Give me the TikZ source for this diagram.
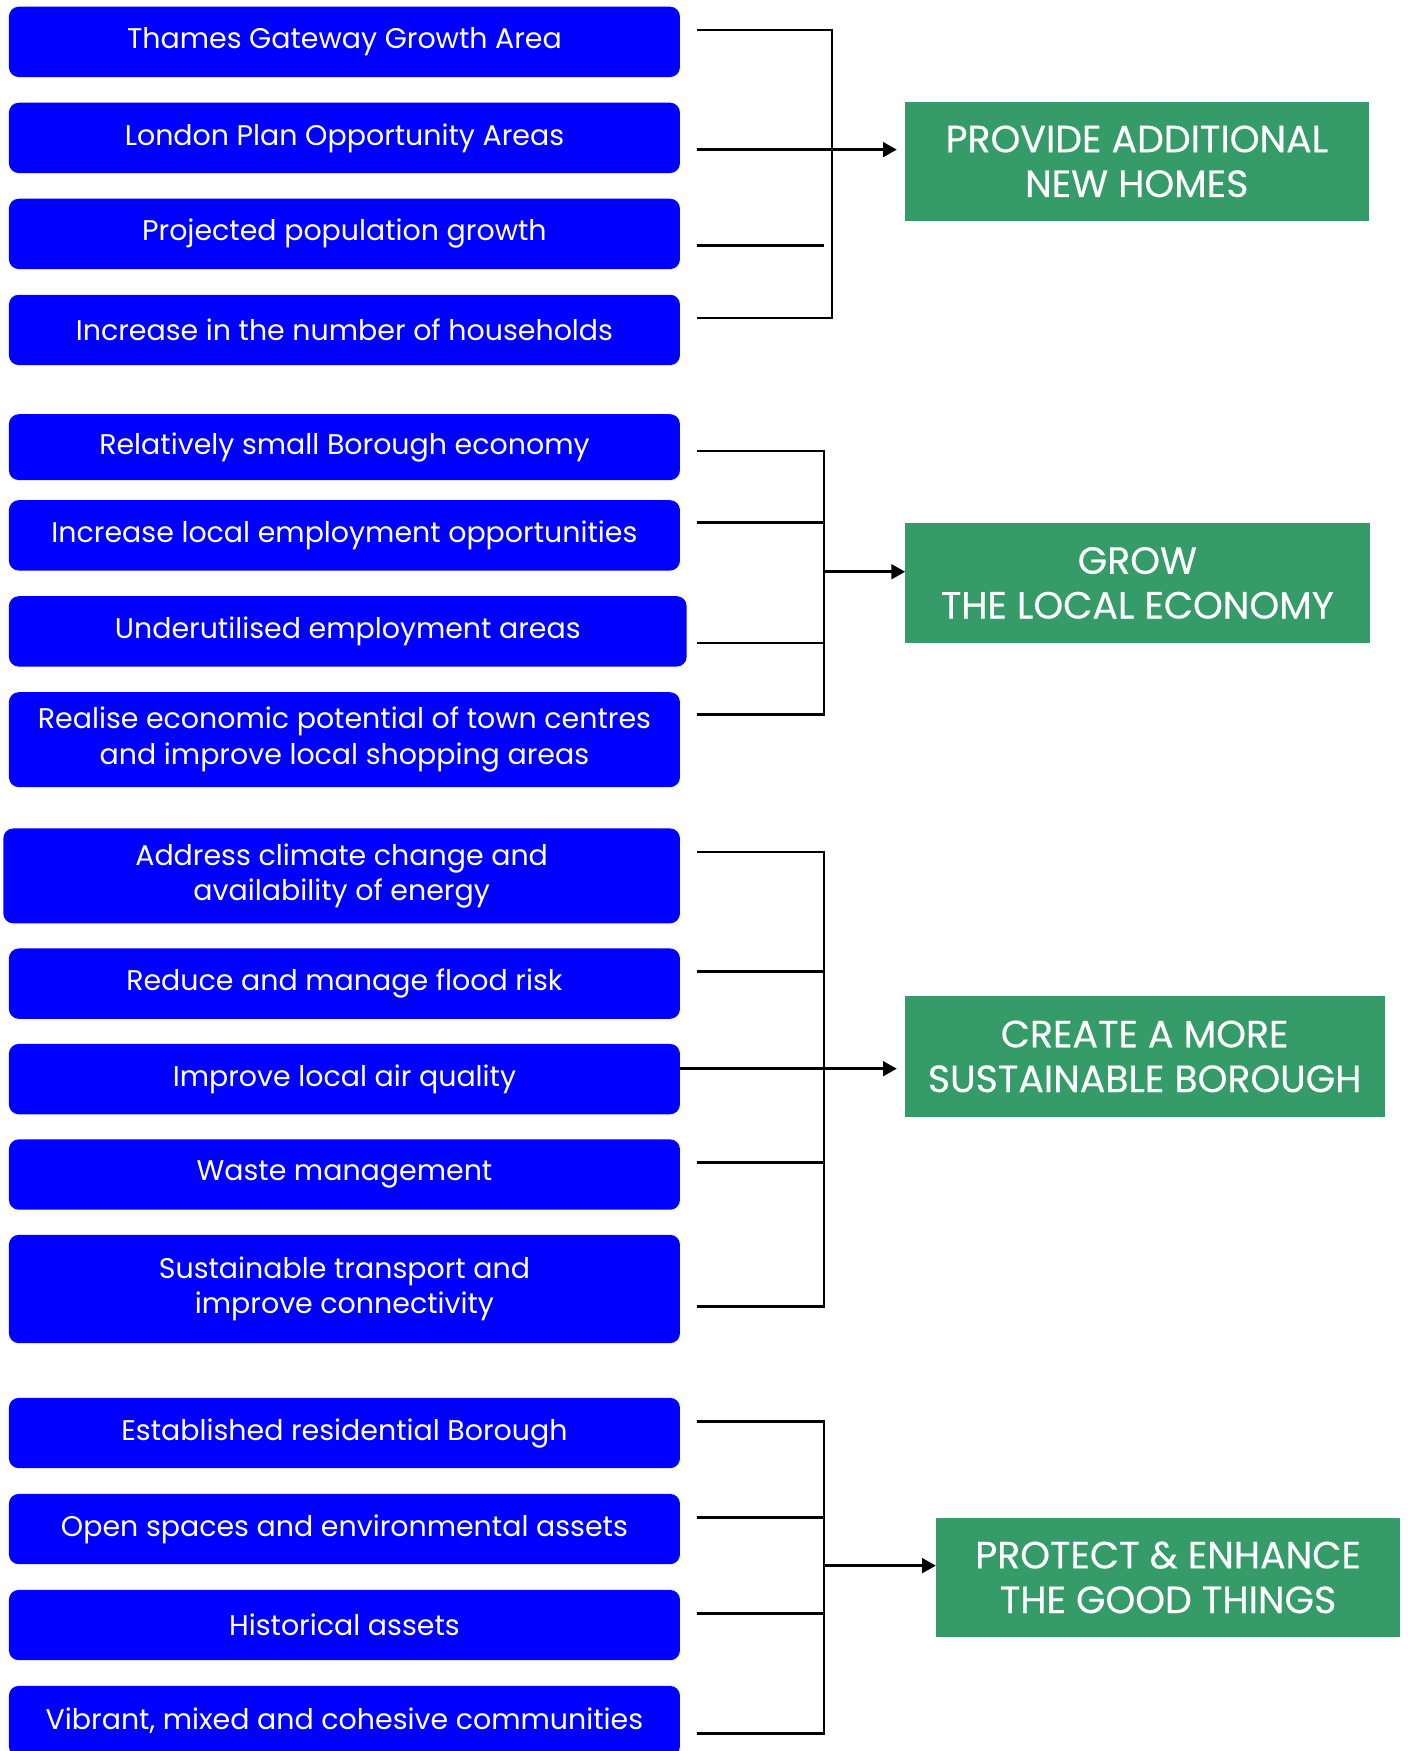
\documentclass[tikz,border=0pt]{standalone}
\usepackage{fontspec}
\setmainfont{Poppins}
\newfontfamily\aimfont[FakeBold=0.4]{Poppins}
\usetikzlibrary{arrows.meta,positioning}
\definecolor{issueFill}{HTML}{0000FF}
\definecolor{aimFill}  {HTML}{359B69}

\begin{document}
\begin{tikzpicture}[
        x=0.02cm, y=-0.02cm,
        every node/.style={font=\fontsize{14.5}{18.2}\selectfont, outer sep=0pt},
        issue/.style={fill=issueFill, rounded corners=5pt, text=white, minimum width=12.02cm, minimum height=1.26cm, align=center, inner sep=0pt},
        aim/.style={fill=aimFill, text=white, minimum width=8.32cm, minimum height=2.14cm, align=center, inner sep=0pt, font=\aimfont\fontsize{19.3}{22.8}\selectfont},
        link/.style={line width=1.3pt, black},
        ar/.style={-{Triangle[length=7pt,width=7.5pt]}, line width=1.3pt, black}
    ]
        \useasboundingbox (0,0) rectangle (1260,1568);
        % housing
        \node[issue, anchor=north west] (b1) at (8,6) {Thames Gateway Growth Area};
        \node[issue, below=0.46cm of b1] (b2) {London Plan Opportunity Areas};
        \node[issue, below=0.46cm of b2] (b3) {Projected population growth};
        \node[issue, below=0.46cm of b3] (b4) {Increase in the number of households};
        % economy
        \node[issue, below=0.88cm of b4, minimum height=1.18cm] (b5) {Relatively small Borough economy};
        \node[issue, below=0.36cm of b5] (b6) {Increase local employment opportunities};
        \node[issue, below=0.46cm of b6, xshift=0.06cm, minimum width=12.14cm] (b7) {Underutilised employment areas};
        \node[issue, below=0.46cm of b7, xshift=-0.06cm, minimum height=1.70cm] (b8) {Realise economic potential of town centres\\and improve local shopping areas};
        % sustainability
        \node[issue, below=0.74cm of b8, xshift=-0.05cm, minimum width=12.12cm, minimum height=1.70cm] (b9) {Address climate change and\\availability of energy};
        \node[issue, below=0.45cm of b9, xshift=0.05cm] (b10) {Reduce and manage flood risk};
        \node[issue, below=0.45cm of b10] (b11) {Improve local air quality};
        \node[issue, below=0.45cm of b11] (b12) {Waste management};
        \node[issue, below=0.45cm of b12, minimum height=1.94cm] (b13) {Sustainable transport and\\improve connectivity};
        % protect
        \node[issue, below=0.98cm of b13] (b14) {Established residential Borough};
        \node[issue, below=0.46cm of b14] (b15) {Open spaces and environmental assets};
        \node[issue, below=0.46cm of b15] (b16) {Historical assets};
        \node[issue, below=0.46cm of b16] (b17) {Vibrant, mixed and cohesive communities};

        \node[aim] (g1) at (1018,144.5) {PROVIDE ADDITIONAL\\NEW HOMES};
        \node[aim, minimum height=2.16cm] (g2) at (1018.5,522) {GROW\\THE LOCAL ECONOMY};
        \node[aim, minimum width=8.6cm, minimum height=2.16cm] (g3) at (1025,946) {CREATE A MORE\\SUSTAINABLE BOROUGH};
        \node[aim] (g4) at (1046,1412.5) {PROTECT \& ENHANCE\\THE GOOD THINGS};

        \coordinate (j1) at (745,134);
        \coordinate (j2) at (738,512);
        \coordinate (j3) at (738,957);
        \coordinate (j4) at (738,1402);

        % brackets
        \foreach \b/\dx/\dy in {b1/.3/.21, b4/.3/.21}
            \draw[link] ([xshift=\dx cm,yshift=\dy cm]\b.east) -| (j1);
        \draw[link] ([xshift=.3cm,yshift=-.21cm]b3.east) -- ++(114,0);
        \draw[ar, shorten >=0.14cm] ([xshift=.3cm]b2.east |- j1) -- (j1 -| g1.west);

        \foreach \b/\dx/\dy in {b5/.3/-.07, b6/.3/.23, b7/.18/-.21, b8/.3/.45}
            \draw[link] ([xshift=\dx cm,yshift=\dy cm]\b.east) -| (j2);
        \draw[ar] (j2) -- (j2 -| g2.west);

        \foreach \b/\dx/\dy in {b9/.3/.43, b10/.3/.22, b12/.3/.22, b13/.3/-.31}
            \draw[link] ([xshift=\dx cm,yshift=\dy cm]\b.east) -| (j3);
        \draw[ar, shorten >=0.14cm] (b11.east |- j3) -- (j3 -| g3.west);

        \foreach \b/\dx/\dy in {b14/.3/.21, b15/.3/.21, b16/.3/.21, b17/.3/-.22}
            \draw[link] ([xshift=\dx cm,yshift=\dy cm]\b.east) -| (j4);
        \draw[ar] (j4) -- (j4 -| g4.west);
    \end{tikzpicture}
\end{document}
